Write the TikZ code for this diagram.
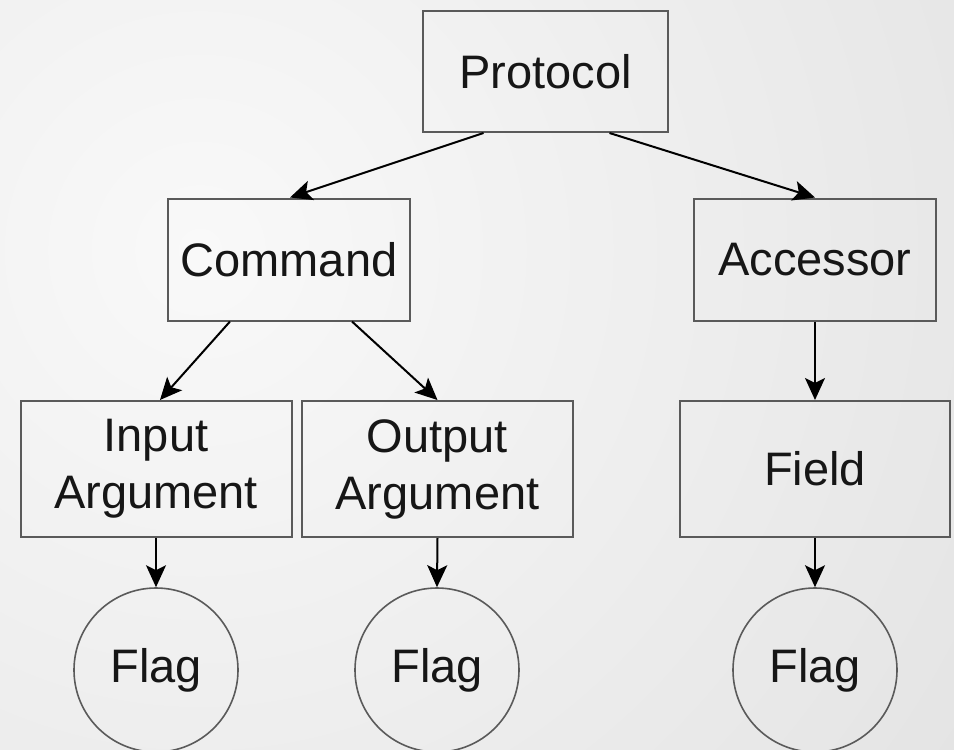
\documentclass[tikz,border=0pt]{standalone}
\usepackage{fontspec}
\setmainfont{Liberation Sans}
\usepackage{tikz}
\usetikzlibrary{shapes.geometric, arrows.meta, positioning, calc}
\definecolor{paperlight}{HTML}{F9F9F9}
\definecolor{papershade}{HTML}{E2E2E2}
\definecolor{boxline}{HTML}{5A5A5A}
\definecolor{inkdark}{HTML}{161616}
\tikzset{
  treebox/.style={draw=boxline, line width=2pt, rectangle, inner sep=0pt, align=center, text=inkdark, font=\fontsize{47}{57}\selectfont},
  flagdisc/.style={draw=boxline, line width=1.6pt, circle, inner sep=0pt, minimum size=164pt, text=inkdark, font=\fontsize{47}{57}\selectfont},
  link/.style={draw=black, line width=2pt, -{Stealth[length=22pt, width=20pt, inset=5pt]}}
}

\begin{document}
\begin{tikzpicture}[x=1pt, y=-1pt]
  \useasboundingbox (0,0) rectangle (954,750);
  \begin{scope}
    \clip (0,0) rectangle (954,750);
    \fill[papershade] (0,0) rectangle (954,750);
    \shade[inner color=paperlight, outer color=papershade] (200,250) circle (1000);
  \end{scope}

  \node[treebox, minimum width=245pt, minimum height=121pt] (proto) at (545.5,71.5) {Protocol};
  \node[treebox, minimum width=242pt, minimum height=122pt] (cmd) at (289,259.5) {Command};
  \node[treebox, minimum width=242pt, minimum height=122pt] (acc) at (815,259.5) {Accessor};

  \node[treebox, minimum width=271pt, minimum height=136pt] (inarg) at (156,469) {Input\\Argument};
  \node[treebox, minimum width=271pt, minimum height=136pt] (outarg) at (437.5,469) {Output\\Argument};
  \node[treebox, minimum width=270pt, minimum height=136pt] (field) at (815,469) {Field};

  \node[flagdisc] (inflag) at (156,670) {Flag};
  \node[flagdisc] (outflag) at (437,670) {Flag};
  \node[flagdisc] (fieldflag) at (815,670) {Flag};

  \draw[link] ([xshift=-62pt]proto.south) -- ([xshift=1pt]cmd.north);
  \draw[link] ([xshift=64pt]proto.south) -- (acc.north);
  \draw[link] ([xshift=-59pt]cmd.south) -- ([xshift=4pt]inarg.north);
  \draw[link] ([xshift=63pt]cmd.south) -- (outarg.north);
  \draw[link] (acc.south) -- (field.north);
  \draw[link] (inarg.south) -- (inflag.north);
  \draw[link] (outarg.south) -- (outflag.north);
  \draw[link] (field.south) -- (fieldflag.north);
\end{tikzpicture}
\end{document}
